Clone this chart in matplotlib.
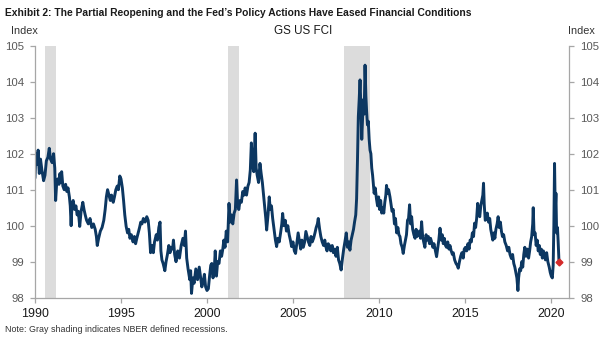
import matplotlib
matplotlib.use('Agg')
import matplotlib.pyplot as plt
import numpy as np

plt.rcParams['font.family'] = ['Liberation Sans', 'DejaVu Sans']

# GS US FCI, decimal year -> index level
years = [
    1990.00, 1990.05, 1990.12, 1990.18, 1990.25, 1990.32, 1990.40, 1990.50, 1990.58, 1990.66,
    1990.75, 1990.83, 1990.90, 1991.00, 1991.08, 1991.15, 1991.20, 1991.25, 1991.32, 1991.40,
    1991.45, 1991.50, 1991.55, 1991.62, 1991.70, 1991.78, 1991.85, 1991.92, 1992.00, 1992.05,
    1992.10, 1992.15, 1992.22, 1992.30, 1992.38, 1992.45, 1992.52, 1992.60, 1992.68, 1992.78,
    1992.85, 1992.92, 1993.00, 1993.10, 1993.20, 1993.30, 1993.40, 1993.50, 1993.57, 1993.62,
    1993.70, 1993.80, 1993.90, 1994.00, 1994.08, 1994.15, 1994.22, 1994.30, 1994.38, 1994.45,
    1994.55, 1994.62, 1994.70, 1994.78, 1994.85, 1994.93, 1995.00, 1995.08, 1995.15, 1995.22,
    1995.30, 1995.38, 1995.45, 1995.52, 1995.60, 1995.70, 1995.78, 1995.85, 1995.92, 1996.00,
    1996.08, 1996.15, 1996.22, 1996.30, 1996.40, 1996.50, 1996.58, 1996.65, 1996.72, 1996.80,
    1996.88, 1996.95, 1997.05, 1997.12, 1997.20, 1997.27, 1997.32, 1997.38, 1997.45, 1997.55,
    1997.62, 1997.70, 1997.78, 1997.85, 1997.92, 1998.00, 1998.05, 1998.12, 1998.20, 1998.30,
    1998.40, 1998.50, 1998.60, 1998.68, 1998.75, 1998.82, 1998.90, 1999.00, 1999.05, 1999.10,
    1999.18, 1999.25, 1999.35, 1999.45, 1999.55, 1999.62, 1999.70, 1999.78, 1999.85, 1999.92,
    2000.00, 2000.08, 2000.15, 2000.22, 2000.28, 2000.35, 2000.42, 2000.48, 2000.55, 2000.62,
    2000.70, 2000.78, 2000.85, 2000.92, 2000.98, 2001.05, 2001.12, 2001.20, 2001.28, 2001.35,
    2001.42, 2001.50, 2001.58, 2001.65, 2001.72, 2001.78, 2001.85, 2001.92, 2002.00, 2002.08,
    2002.15, 2002.22, 2002.30, 2002.38, 2002.45, 2002.52, 2002.58, 2002.65, 2002.72, 2002.80,
    2002.86, 2002.92, 2003.00, 2003.08, 2003.15, 2003.22, 2003.28, 2003.35, 2003.42, 2003.47,
    2003.55, 2003.62, 2003.68, 2003.75, 2003.82, 2003.90, 2003.98, 2004.05, 2004.12, 2004.20,
    2004.28, 2004.35, 2004.40, 2004.47, 2004.55, 2004.62, 2004.70, 2004.78, 2004.85, 2004.92,
    2005.00, 2005.08, 2005.15, 2005.22, 2005.30, 2005.38, 2005.45, 2005.52, 2005.60, 2005.68,
    2005.75, 2005.82, 2005.90, 2005.98, 2006.05, 2006.12, 2006.20, 2006.28, 2006.35, 2006.42,
    2006.47, 2006.55, 2006.62, 2006.70, 2006.78, 2006.85, 2006.92, 2006.98, 2007.05, 2007.12,
    2007.20, 2007.28, 2007.35, 2007.42, 2007.50, 2007.58, 2007.65, 2007.72, 2007.80, 2007.88,
    2007.95, 2008.02, 2008.10, 2008.17, 2008.25, 2008.31, 2008.38, 2008.45, 2008.52, 2008.58,
    2008.65, 2008.70, 2008.75, 2008.80, 2008.85, 2008.90, 2008.95, 2009.00, 2009.05, 2009.09,
    2009.14, 2009.19, 2009.24, 2009.28, 2009.33, 2009.38, 2009.43, 2009.48, 2009.53, 2009.58,
    2009.63, 2009.67, 2009.72, 2009.78, 2009.86, 2009.92, 2009.98, 2010.04, 2010.10, 2010.16,
    2010.22, 2010.28, 2010.34, 2010.40, 2010.44, 2010.50, 2010.56, 2010.64, 2010.70, 2010.76,
    2010.83, 2010.90, 2010.96, 2011.03, 2011.10, 2011.16, 2011.22, 2011.28, 2011.35, 2011.41,
    2011.48, 2011.54, 2011.60, 2011.66, 2011.72, 2011.78, 2011.84, 2011.90, 2011.96, 2012.03,
    2012.10, 2012.16, 2012.22, 2012.28, 2012.35, 2012.42, 2012.48, 2012.54, 2012.60, 2012.67,
    2012.74, 2012.80, 2012.87, 2012.94, 2013.00, 2013.06, 2013.13, 2013.20, 2013.28, 2013.35,
    2013.42, 2013.48, 2013.55, 2013.62, 2013.68, 2013.74, 2013.80, 2013.87, 2013.93, 2014.00,
    2014.07, 2014.13, 2014.20, 2014.27, 2014.32, 2014.40, 2014.48, 2014.55, 2014.61, 2014.68,
    2014.75, 2014.82, 2014.90, 2014.96, 2015.03, 2015.10, 2015.17, 2015.24, 2015.30, 2015.37,
    2015.43, 2015.50, 2015.56, 2015.62, 2015.68, 2015.74, 2015.80, 2015.86, 2015.92, 2015.98,
    2016.04, 2016.08, 2016.12, 2016.18, 2016.24, 2016.30, 2016.37, 2016.44, 2016.50, 2016.56,
    2016.62, 2016.68, 2016.74, 2016.80, 2016.87, 2016.93, 2016.99, 2017.06, 2017.12, 2017.18,
    2017.25, 2017.32, 2017.40, 2017.48, 2017.55, 2017.62, 2017.70, 2017.77, 2017.84, 2017.90,
    2017.96, 2018.02, 2018.08, 2018.12, 2018.18, 2018.24, 2018.30, 2018.36, 2018.42, 2018.48,
    2018.55, 2018.62, 2018.70, 2018.76, 2018.82, 2018.88, 2018.94, 2018.97, 2019.02, 2019.08,
    2019.14, 2019.20, 2019.26, 2019.32, 2019.38, 2019.44, 2019.50, 2019.56, 2019.62, 2019.68,
    2019.75, 2019.82, 2019.90, 2019.96, 2020.02, 2020.08, 2020.13, 2020.17, 2020.21, 2020.25,
    2020.29, 2020.33, 2020.38, 2020.42, 2020.47,
]
fci = [
    101.35, 102.00, 101.70, 102.10, 101.45, 101.85, 101.55, 101.25, 101.40, 101.80,
    101.90, 102.15, 101.85, 101.75, 102.00, 101.60, 100.70, 101.10, 101.30, 101.15,
    101.45, 101.20, 101.50, 101.10, 101.00, 101.15, 100.95, 101.05, 100.80, 100.55,
    100.00, 100.60, 100.70, 100.45, 100.55, 100.30, 100.40, 99.98, 100.40, 100.65,
    100.45, 100.30, 100.15, 100.05, 100.20, 99.95, 100.05, 99.90, 99.70, 99.45,
    99.65, 99.85, 99.95, 100.15, 100.45, 100.80, 101.00, 100.85, 100.70, 100.85,
    100.65, 100.80, 101.00, 101.10, 101.00, 101.38, 101.30, 101.05, 100.70, 100.30,
    99.98, 99.80, 99.90, 99.65, 99.75, 99.55, 99.70, 99.50, 99.65, 99.80,
    99.95, 100.10, 100.05, 100.20, 100.10, 100.25, 100.15, 99.80, 99.25, 99.45,
    99.25, 99.55, 99.75, 99.60, 99.95, 100.10, 99.30, 99.05, 98.95, 98.75,
    99.00, 99.20, 99.45, 99.25, 99.40, 99.35, 99.60, 99.20, 99.00, 99.30,
    99.10, 99.45, 99.65, 99.45, 99.85, 99.10, 98.80, 98.50, 98.75, 98.12,
    98.55, 98.40, 98.80, 98.50, 98.85, 98.60, 98.30, 98.45, 98.65, 98.30,
    98.20, 98.25, 98.60, 98.90, 98.95, 98.55, 98.75, 99.30, 98.60, 99.00,
    98.95, 99.30, 99.15, 99.35, 99.60, 99.40, 99.85, 99.55, 100.62, 100.10,
    100.30, 100.05, 100.35, 100.45, 101.27, 100.60, 100.45, 100.70, 100.65, 100.95,
    100.85, 101.05, 100.85, 101.10, 101.20, 101.55, 102.30, 101.70, 101.50, 102.57,
    101.60, 101.40, 101.20, 101.73, 101.45, 101.20, 100.90, 100.55, 100.20, 99.88,
    100.30, 100.80, 100.45, 100.55, 100.20, 99.90, 99.60, 99.42, 99.65, 99.55,
    99.80, 100.05, 100.34, 100.00, 100.15, 99.85, 100.00, 99.75, 99.60, 99.42,
    99.55, 99.30, 99.23, 99.50, 99.80, 99.55, 99.35, 99.60, 99.40, 99.55,
    99.84, 99.70, 99.55, 99.45, 99.70, 99.55, 99.65, 99.80, 99.95, 100.05,
    100.20, 99.90, 99.70, 99.55, 99.45, 99.60, 99.40, 99.30, 99.50, 99.45,
    99.30, 99.45, 99.25, 99.35, 99.15, 99.40, 99.05, 98.95, 98.77, 99.10,
    99.35, 99.55, 99.80, 99.40, 99.55, 99.32, 99.60, 99.75, 99.90, 100.10,
    100.30, 100.75, 101.80, 103.03, 103.50, 104.05, 103.30, 102.40, 103.00, 103.50,
    103.10, 104.46, 103.60, 103.20, 102.80, 102.90, 102.40, 102.10, 102.00, 101.60,
    101.40, 101.18, 100.90, 101.05, 100.73, 100.55, 100.80, 100.45, 100.70, 100.35,
    100.50, 100.35, 100.65, 100.85, 101.12, 100.90, 101.00, 100.80, 100.60, 100.40,
    100.45, 100.05, 100.20, 99.80, 99.95, 99.75, 99.70, 99.50, 99.40, 99.23,
    99.45, 99.60, 99.75, 100.15, 100.20, 100.58, 100.05, 100.25, 99.90, 99.75,
    99.65, 99.90, 99.70, 99.75, 99.85, 99.65, 100.11, 99.70, 99.55, 99.40,
    99.75, 99.60, 99.70, 99.50, 99.65, 99.55, 99.40, 99.50, 99.30, 99.14,
    99.40, 99.60, 99.93, 99.60, 99.75, 99.50, 99.65, 99.45, 99.40, 99.55,
    99.35, 99.45, 99.30, 99.20, 99.25, 99.05, 98.95, 98.90, 98.82, 99.00,
    99.15, 99.25, 99.10, 99.35, 99.40, 99.30, 99.50, 99.35, 99.60, 99.55,
    99.80, 99.70, 100.07, 99.95, 100.20, 100.62, 100.35, 100.25, 100.55, 100.70,
    100.85, 101.18, 100.60, 100.15, 100.20, 100.35, 100.10, 100.20, 99.90, 99.75,
    99.60, 99.80, 99.65, 99.90, 100.05, 100.25, 99.95, 100.10, 99.85, 99.70,
    99.75, 99.55, 99.45, 99.30, 99.40, 99.20, 99.09, 99.20, 98.95, 98.85,
    98.70, 98.55, 98.20, 98.55, 98.80, 98.75, 99.00, 98.85, 99.20, 99.40,
    99.15, 99.35, 99.10, 99.30, 99.55, 99.70, 100.05, 100.50, 99.75, 99.80,
    99.45, 99.60, 99.30, 99.45, 99.20, 99.35, 99.10, 99.30, 99.20, 99.05,
    99.25, 99.00, 98.85, 98.70, 98.60, 98.55, 98.90, 100.00, 101.73, 100.40,
    100.90, 99.80, 99.95, 99.55, 98.98,
]

# latest reading, highlighted in red
last_year = 2020.47
last_value = 98.98

# NBER recessions (start, end)
recessions = [(1990.58, 1991.2), (2001.2, 2001.88), (2007.95, 2009.5)]

xticks = [1990, 1995, 2000, 2005, 2010, 2015, 2020]
yticks = [98, 99, 100, 101, 102, 103, 104, 105]

navy = '#0c3761'
spine_grey = '#a6a6a6'

fig = plt.figure(figsize=(6.05, 3.41), dpi=100)
ax = fig.add_axes([35 / 605, 1 - 297.7 / 341, 534 / 605, 252 / 341])

for start, end in recessions:
    ax.axvspan(start, end, color='#dcdcdc', lw=0, zorder=0)

ax.plot(years, fci, color=navy, lw=2.1, zorder=2)
ax.plot([last_year], [last_value], marker='D', ms=3.5, color='#d42a2a',
        mec='#d42a2a', ls='none', zorder=3)

ax.set_xlim(1990, 2021.05)
ax.set_ylim(98, 105)
ax.set_xticks(xticks)
ax.set_xticklabels([str(t) for t in xticks])
ax.set_yticks(yticks)

ax.spines['top'].set_visible(False)
for s in ['left', 'right', 'bottom']:
    ax.spines[s].set_color(spine_grey)
    ax.spines[s].set_linewidth(0.9)

ax.tick_params(axis='y', which='both', left=True, right=True, labelleft=True,
               labelright=True, direction='out', length=3.5, width=0.9,
               color=spine_grey, labelsize=8.2, labelcolor='#595959', pad=4.5)
ax.tick_params(axis='x', direction='out', length=3.5, width=0.9,
               color=spine_grey, labelsize=8.9, labelcolor='#1a1a1a', pad=4)

fig.text(5 / 605, 1 - 13 / 341,
         "Exhibit 2: The Partial Reopening and the Fed\u2019s Policy Actions Have Eased Financial Conditions",
         fontsize=7.4, fontweight='bold', ha='left', va='center',
         family=['Liberation Sans', 'DejaVu Sans'], color='#1a1a1a')
fig.text(24 / 605, 1 - 30.5 / 341, 'Index', fontsize=7.8, color='#333333',
         ha='center', va='center')
fig.text(581 / 605, 1 - 30.5 / 341, 'Index', fontsize=7.8, color='#333333',
         ha='center', va='center')
fig.text(303 / 605, 1 - 31.5 / 341, 'GS US FCI', fontsize=8.4, color='#1a1a1a',
         ha='center', va='center')
fig.text(5 / 605, 1 - 329 / 341, 'Note: Gray shading indicates NBER defined recessions.',
         fontsize=6.4, color='#333333', ha='left', va='center')

fig.savefig('out.png', dpi=100)
